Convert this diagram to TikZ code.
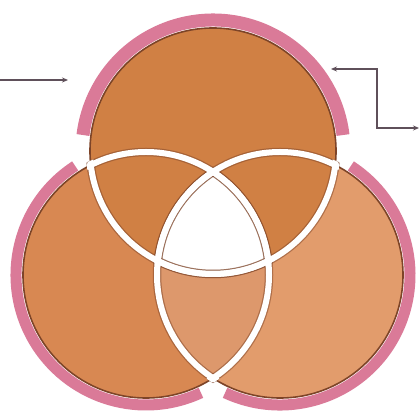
\documentclass[tikz,border=0pt]{standalone}
\usetikzlibrary{arrows.meta}
\definecolor{pinkarc}{RGB}{218,122,152}
\definecolor{topfill}{RGB}{208,128,68}
\definecolor{leftfill}{RGB}{216,136,82}
\definecolor{rightfill}{RGB}{226,156,108}
\definecolor{lensfill}{RGB}{221,152,108}
\definecolor{edgec}{RGB}{125,68,40}
\definecolor{arrowc}{RGB}{95,80,90}
\begin{document}
\begin{tikzpicture}[x=1pt,y=1pt,
  conn/.style={draw=arrowc, line width=1.4pt},
  tipboth/.style={{Stealth[length=6pt,width=5pt]}-{Stealth[length=6pt,width=5pt]}},
  tipend/.style={-{Stealth[length=6pt,width=5pt]}},
  pinkband/.style={draw=pinkarc, line width=11pt},
  pinktop/.style={draw=pinkarc, line width=13pt},
  whiteline/.style={draw=white, line width=6pt},
  shadowline/.style={draw=edgec, line width=8.5pt, opacity=0.5},
  edgeline/.style={draw=edgec, line width=1.6pt}]
\useasboundingbox (0,0) rectangle (420,417);
\fill[white] (0,0) rectangle (420,417);
\def\rr{123}
\def\rc{127}
\coordinate (T) at (213,266);
\coordinate (L) at (146,142);
\coordinate (R) at (280,142);
% fills
\fill[leftfill] (L) circle[radius=\rr];
\fill[rightfill] (R) circle[radius=\rr];
\begin{scope}
  \clip (L) circle[radius=\rr];
  \fill[lensfill] (R) circle[radius=\rr];
\end{scope}
\fill[topfill] (T) circle[radius=\rr];
% white centre
\begin{scope}
  \clip (L) circle[radius=\rr];
  \clip (R) circle[radius=\rr];
  \fill[white] (T) circle[radius=\rr];
\end{scope}
% outer edges
\draw[edgeline] (T) circle[radius=\rr];
\draw[edgeline] (L) circle[radius=\rr];
\draw[edgeline] (R) circle[radius=\rr];
% shadows of inner lines
\begin{scope}\clip (L) circle[radius=\rc]; \draw[shadowline] (T) circle[radius=\rr]; \draw[shadowline] (R) circle[radius=\rr]; \end{scope}
\begin{scope}\clip (R) circle[radius=\rc]; \draw[shadowline] (T) circle[radius=\rr]; \draw[shadowline] (L) circle[radius=\rr]; \end{scope}
\begin{scope}\clip (T) circle[radius=\rc]; \draw[shadowline] (L) circle[radius=\rr]; \draw[shadowline] (R) circle[radius=\rr]; \end{scope}
% white inner lines
\begin{scope}\clip (L) circle[radius=\rc]; \draw[whiteline] (T) circle[radius=\rr]; \draw[whiteline] (R) circle[radius=\rr]; \end{scope}
\begin{scope}\clip (R) circle[radius=\rc]; \draw[whiteline] (T) circle[radius=\rr]; \draw[whiteline] (L) circle[radius=\rr]; \end{scope}
\begin{scope}\clip (T) circle[radius=\rc]; \draw[whiteline] (L) circle[radius=\rr]; \draw[whiteline] (R) circle[radius=\rr]; \end{scope}
% pink outer arcs
\draw[pinktop] (T) ++(7:131) arc[start angle=7, end angle=173, radius=131];
\draw[pinkband] (L) ++(123:130) arc[start angle=123, end angle=295, radius=130];
\draw[pinkband] (R) ++(-115:130) arc[start angle=-115, end angle=57, radius=130];
% connectors
\coordinate (a1) at (0,337);
\coordinate (a2) at (68,337);
\draw[conn,tipend] (a1) -- (a2);
\coordinate (b1) at (331,348);
\coordinate (b2) at (419,289);
\draw[conn,tipboth] (b1) -- ++(46,0) |- (b2);
\end{tikzpicture}
\end{document}
